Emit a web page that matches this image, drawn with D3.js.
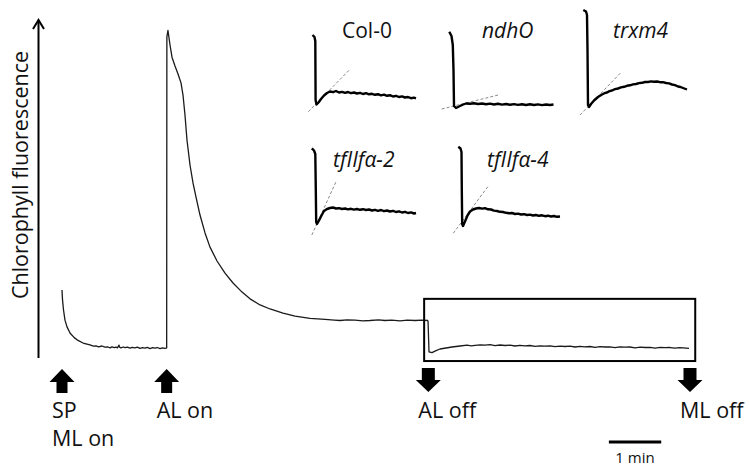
<!DOCTYPE html>
<html>
<head>
<meta charset="utf-8">
<script src="https://cdn.jsdelivr.net/npm/d3@7"></script>
<style>
  body { margin: 0; background: #fff; }
  svg { display: block; }
  text { font-family: "Open Sans", "Noto Sans", sans-serif; fill: #111; }
</style>
</head>
<body>
<svg id="chart" width="750" height="471"></svg>
<script>
// ---- Main fluorescence trace: [time (min), fluorescence (a.u.)] ----
const darkPhase = [
  [0.000,20.1],[0.010,17.2],[0.029,14.2],[0.057,11.2],[0.096,9.2],[0.153,7.4],[0.229,6.1],
  [0.306,5.2],[0.420,4.3],[0.535,3.85],[0.60,3.5],[0.650,3.6],[0.70,3.3],[0.764,3.55],
  [0.82,3.2],[0.879,3.25],[0.92,3.0],[0.955,3.3],[1.00,3.05],[1.032,3.2],[1.06,3.0],
  [1.089,3.8],[1.10,3.2],[1.127,3.0],[1.17,3.25],[1.204,3.05],[1.25,3.2],[1.299,2.9],
  [1.34,3.15],[1.395,3.0],[1.44,3.2],[1.490,2.85],[1.54,3.1],[1.586,2.95],[1.63,3.15],
  [1.682,2.8],[1.73,3.05],[1.777,2.9],[1.82,3.1],[1.873,2.75],[1.92,3.0],[1.968,2.85],[2.000,2.9]
];
const actinicPhase = [
  [2.000,2.9],[2.004,95.0],[2.025,96.9],[2.064,92.6],[2.102,89.0],[2.159,86.4],[2.217,84.0],
  [2.274,81.4],[2.312,77.8],[2.350,71.9],[2.388,64.5],[2.446,57.1],[2.503,51.8],[2.561,47.6],
  [2.637,42.3],[2.733,37.0],[2.828,32.8],[2.962,28.7],[3.115,25.1],[3.268,22.2],[3.440,19.5],
  [3.593,17.5],[3.784,15.7],[3.975,14.5],[4.223,13.3],[4.453,12.4],[4.739,11.7],[5.026,11.4],
  [5.20,11.2],[5.312,11.1],[5.45,11.3],[5.599,11.2],[5.75,11.0],[5.886,11.1],[6.05,11.3],
  [6.172,11.1],[6.30,11.2],[6.459,11.0],[6.60,11.2],[6.746,11.1],[6.88,11.2],[6.994,11.1]
];
const recoveryPhase = [
  [6.994,11.1],[7.013,1.8],[7.070,1.6],[7.147,2.2],[7.223,2.66],[7.338,2.96],[7.453,3.25],
  [7.606,3.55],[7.740,3.8],[7.82,3.6],[7.893,3.75],[7.99,3.9],[8.083,3.8],[8.18,3.95],
  [8.274,3.65],[8.37,3.85],[8.466,3.7],[8.56,3.8],[8.657,3.55],[8.75,3.75],[8.848,3.6],
  [8.94,3.7],[9.039,3.45],[9.13,3.6],[9.230,3.5],[9.33,3.6],[9.421,3.35],[9.52,3.5],
  [9.612,3.4],[9.71,3.5],[9.803,3.25],[9.90,3.45],[9.994,3.3],[10.09,3.4],[10.185,3.15],
  [10.28,3.35],[10.376,3.25],[10.47,3.3],[10.567,3.1],[10.66,3.3],[10.758,3.2],[10.85,3.25],
  [10.950,3.0],[11.05,3.2],[11.141,3.1],[11.24,3.15],[11.332,2.95],[11.43,3.15],[11.523,3.05],
  [11.62,3.1],[11.714,2.9],[11.80,3.05],[11.867,3.0],[11.982,2.85]
];

// ---- Light events (min) ----
const eventTimes  = [0, 2, 7, 12];
const eventLabels = [["SP", "ML on"], ["AL on"], ["AL off"], ["ML off"]];
const eventDirs   = ["up", "up", "down", "down"];

// Highlighted post-illumination window (min, a.u.) and scale bar (min)
const zoomWindow = { t0: 6.92, t1: 12.1, f0: -0.9, f1: 17.5 };
const scaleBarStart = 10.45, scaleBarLength = 1;

// ---- Post-illumination rise per genotype: [time (s), fluorescence (a.u.)] ----
const insetNames = ["Col-0", "ndhO", "trxm4", "tfIIfα-2", "tfIIfα-4"];
const insetItalic = [false, true, true, true, true];
const colTrace = [
  [-1.5,69.5],[-0.5,67.5],[-0.1,63.5],[0.05,4.5],[0.5,0],[1.5,2],[2.75,5.5],[4.25,9],[5.75,11.5],
  [7.25,13],[8.75,12.3],[10.25,13.5],[11.75,12],[13.25,12.7],[14.75,11.7],[16.25,12.5],[17.75,11.3],
  [19.25,12],[20.75,11],[22.25,11.7],[23.75,10.5],[25.25,11.3],[26.75,10.2],[28.25,10.7],[29.75,9.7],
  [31.25,10.3],[32.75,9.2],[34.25,9.9],[35.75,8.7],[37.25,9.3],[38.75,8],[40.25,8.7],[41.75,7.5],
  [43.25,8.1],[44.75,7],[46.25,7.5],[47.75,6.3],[49.25,6.9],[50.25,6.2]
];
const ndhoTrace = [
  [-2.1,76.3],[-1,72],[-0.35,63],[0,38],[0.25,2],[1.25,0],[2.75,1.5],[4.25,3],[6.25,4.5],[8.25,4.2],
  [10.25,4.8],[12.25,4],[14.25,4.5],[16.25,3.7],[18.25,4.4],[20.25,3.5],[22.25,4.2],[24.25,3.4],
  [26.25,4],[28.25,3.2],[30.25,3.9],[32.25,3.1],[34.25,3.8],[36.25,3],[38.25,3.7],[40.25,3],
  [42.25,3.6],[44.25,2.9],[46.25,3.5],[48.25,3],[50,3.5]
];
const trxTrace = [
  [-2.1,97],[-0.75,95.5],[-0.25,92],[0,57],[0.25,2],[0.75,0],[1.75,3],[3.25,6.5],[5.25,10],
  [7.25,12.5],[8.5,13.8],[9.75,14.5],[11,15.9],[12.25,16.5],[13.75,17.8],[15.25,18.5],[16.75,19.6],
  [18.25,20.2],[19.75,21.2],[21.25,21.7],[22.75,22.6],[24.25,23],[25.75,23.9],[27.25,24.2],
  [28.75,25],[30.25,25],[31.75,25.6],[33.25,25.2],[34.75,25.5],[36.25,24.8],[37.75,24.8],
  [39.25,24],[40.75,23.6],[42.25,22.5],[43.75,21.9],[45.25,20.5],[46.5,20],[47.75,19],[49.75,17.5]
];
const tf2Trace = [
  [-2,75.7],[-0.9,73.5],[-0.25,70],[0,34],[0.2,2],[0.6,0],[1.6,3.5],[2.85,8.5],[4.1,13],[5.6,15],
  [7.1,16],[8.6,16.5],[10.1,15.5],[11.6,15.8],[13.1,15],[14.6,15.5],[16.1,14.6],[17.6,15.2],
  [19.1,14.4],[20.6,15],[22.1,14.2],[23.6,14.8],[25.1,14],[26.6,14.5],[28.1,13.5],[29.6,14.2],
  [31.1,13.2],[32.6,14],[34.1,12.8],[35.6,13.5],[37.1,12.5],[38.6,13.2],[40.1,12],[41.6,12.7],
  [43.1,11.5],[44.6,12.2],[46.1,11],[47.6,11.6],[49.1,10.5],[50.1,11]
];
const tf4Trace = [
  [-1.75,79.3],[-0.65,77.5],[-0.15,74],[0,36],[0.2,2],[0.6,0],[1.6,4.5],[2.85,10.5],[4.1,14.5],
  [5.6,16.5],[7.1,17.5],[8.6,18],[10.1,17.4],[11.6,17.8],[13.1,16.7],[14.6,16.5],[16.1,15.4],
  [17.6,15],[19.1,14.2],[20.6,14],[22.1,13.2],[23.6,12.8],[25.1,13],[26.6,12],[28.1,12.4],
  [29.6,11.5],[31.1,11.8],[32.6,11],[34.1,11.4],[35.6,10.5],[37.1,11],[38.6,10.2],[40.1,10.7],
  [41.6,9.8],[43.1,10.3],[44.6,9.5],[46.1,10],[47.6,9.2],[49.1,9.5]
];
const insetTraces = [colTrace, ndhoTrace, trxTrace, tf2Trace, tf4Trace];
// Initial-slope tangents: two endpoints each, [time (s), fluorescence (a.u.)]
const insetTangents = [
  [[-3.6,-7.2],[17.25,35.2]],
  [[-5.9,-1],[22.4,13]],
  [[-3.75,-8],[17.1,35.3]],
  [[-2,-11],[10.1,42.3]],
  [[-4.25,-7.3],[13.25,40]]
];

// ---- Layout ----
const svg = d3.select("#chart");
const x = d3.scaleLinear().domain([0, 12]).range([62, 690]);
const y = d3.scaleLinear().domain([0, 100]).range([358, 20]);
const axisX = 38.5;

// y axis with open arrowhead
svg.append("line")
  .attr("x1", axisX).attr("x2", axisX)
  .attr("y1", y(0)).attr("y2", y(100) + 1)
  .attr("stroke", "#000").attr("stroke-width", 2);
svg.append("path")
  .attr("d", `M${axisX - 5.5},${y(100) + 9}L${axisX},${y(100)}L${axisX + 5.5},${y(100) + 9}`)
  .attr("fill", "none").attr("stroke", "#000").attr("stroke-width", 2);

svg.append("text")
  .attr("transform", `translate(28,175) rotate(-90)`)
  .attr("text-anchor", "middle")
  .style("font-size", "21.5px")
  .text("Chlorophyll fluorescence");

// main trace
const line = d3.line().x(d => x(d[0])).y(d => y(d[1]));
[darkPhase, actinicPhase, recoveryPhase].forEach(seg => {
  svg.append("path").attr("d", line(seg))
    .attr("fill", "none").attr("stroke", "#1a1a1a")
    .attr("stroke-width", 1.3).attr("stroke-linejoin", "round");
});

// highlighted window
svg.append("rect")
  .attr("x", x(zoomWindow.t0)).attr("y", y(zoomWindow.f1))
  .attr("width", x(zoomWindow.t1) - x(zoomWindow.t0))
  .attr("height", y(zoomWindow.f0) - y(zoomWindow.f1))
  .attr("fill", "none").attr("stroke", "#000").attr("stroke-width", 2);

// event arrows and labels
eventTimes.forEach((t, i) => {
  const cx = x(t);
  const hw = 12.5, sw = 5.5;
  let d;
  if (eventDirs[i] === "up") {
    const tip = 369, base = 382, bot = 393;
    d = `M${cx},${tip}L${cx + hw},${base}L${cx + sw},${base}L${cx + sw},${bot}L${cx - sw},${bot}L${cx - sw},${base}L${cx - hw},${base}Z`;
  } else {
    const top = 368, base = 380, tip = 392;
    d = `M${cx - sw - 1},${top}L${cx + sw + 1},${top}L${cx + sw + 1},${base}L${cx + hw},${base}L${cx},${tip}L${cx - hw},${base}L${cx - sw - 1},${base}Z`;
  }
  svg.append("path").attr("d", d).attr("fill", "#000");
  eventLabels[i].forEach((s, j) => {
    svg.append("text")
      .attr("x", cx - 10).attr("y", 418 + j * 28)
      .style("font-size", "21.5px")
      .text(s);
  });
});

// scale bar
svg.append("line")
  .attr("x1", x(scaleBarStart)).attr("x2", x(scaleBarStart + scaleBarLength))
  .attr("y1", 442).attr("y2", 442)
  .attr("stroke", "#000").attr("stroke-width", 3);
svg.append("text")
  .attr("x", x(scaleBarStart + scaleBarLength / 2)).attr("y", 463)
  .attr("text-anchor", "middle")
  .style("font-size", "15px")
  .text("1 min");

// ---- Insets ----
const ix = d3.scaleLinear().domain([0, 50]).range([0, 100]);
const iy = d3.scaleLinear().domain([0, 100]).range([0, -100]);
const insetOrigins = [[315.5, 104.5], [453.5, 108], [587.5, 107], [315.8, 224], [461.8, 226]];
const insetLabelPos = [[342, 38], [482, 38], [613, 38], [333, 166.5], [487, 166.5]];
const iline = d3.line().x(d => ix(d[0])).y(d => iy(d[1]));

insetTraces.forEach((tr, i) => {
  const g = svg.append("g").attr("transform", `translate(${insetOrigins[i][0]},${insetOrigins[i][1]})`);
  g.append("path").attr("d", iline(insetTangents[i]))
    .attr("fill", "none").attr("stroke", "#8a8a8a")
    .attr("stroke-width", 1).attr("stroke-dasharray", "3,2");
  g.append("path").attr("d", iline(tr))
    .attr("fill", "none").attr("stroke", "#000")
    .attr("stroke-width", 2.4).attr("stroke-linejoin", "round");
  svg.append("text")
    .attr("x", insetLabelPos[i][0]).attr("y", insetLabelPos[i][1])
    .style("font-size", "21px")
    .style("font-style", insetItalic[i] ? "italic" : "normal")
    .text(insetNames[i]);
});
</script>
</body>
</html>
